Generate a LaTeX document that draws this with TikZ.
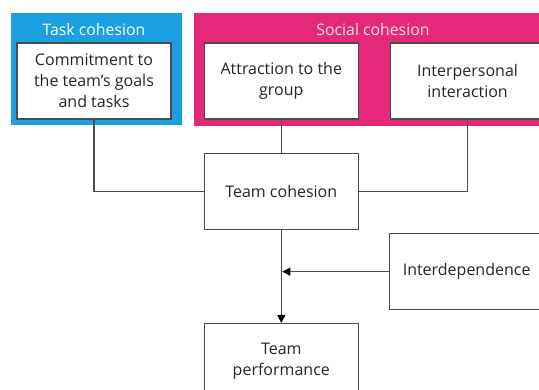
\documentclass[tikz,border=0pt]{standalone}
\usepackage{fontspec}
\setmainfont{Open Sans}
\usetikzlibrary{positioning,arrows.meta}
\definecolor{taskblue}{HTML}{1BA0E2}
\definecolor{socialpink}{HTML}{E6287A}
\tikzset{
	caja/.style={rectangle, draw=black!70, line width=1.3pt, fill=white,
		text=black!85, font=\fontsize{16}{21}\selectfont, align=center,
		minimum width=154pt, minimum height=76pt, inner sep=2pt},
	panel/.style={font=\fontsize{15.8}{18}\selectfont},
	enlace/.style={draw=black!70, line width=1.3pt},
	flecha/.style={enlace, -{Triangle[length=8pt,width=8pt,fill=black,color=black]}}
}

\begin{document}
\begin{tikzpicture}[x=1pt,y=-1pt]
	\clip (0,0) rectangle (539,389);
	\fill[white] (0,0) rectangle (539,389);
	
	% paneles de fondo
	\fill[taskblue] (11,13) rectangle (182,125);
	\fill[socialpink] (194,13) rectangle (560,126);
	\node[panel, text=white] (taskt) at (94,30) {Task cohesion};
	\node[panel, text=pink!40] (socialt) at (373,30) {Social cohesion};
	
	% cajas
	\node[caja] (commit) at (94,81) {Commitment to\\the team’s goals\\and tasks};
	\node[caja, right=32pt of commit] (attract) {Attraction to the\\group};
	\node[caja, right=31pt of attract] (interp) {Interpersonal\\interaction};
	\node[caja, below=33pt of attract] (teamcoh) {Team cohesion};
	\node[caja, below=93pt of teamcoh] (teamperf) {Team\\performance};
	\node[caja, anchor=north west] (interdep) at (389,233) {Interdependence};
	
	% conexiones
	\draw[enlace] (commit.south) |- (teamcoh.west);
	\draw[enlace] (attract.south) -- (teamcoh.north);
	\draw[enlace] (interp.south) |- (teamcoh.east);
	\draw[flecha] (teamcoh.south) -- (teamperf.north);
	\coordinate (cruce) at (teamcoh.south |- interdep.west);
	\draw[flecha] (interdep.west) -- ([xshift=1pt]cruce);
\end{tikzpicture}
\end{document}
